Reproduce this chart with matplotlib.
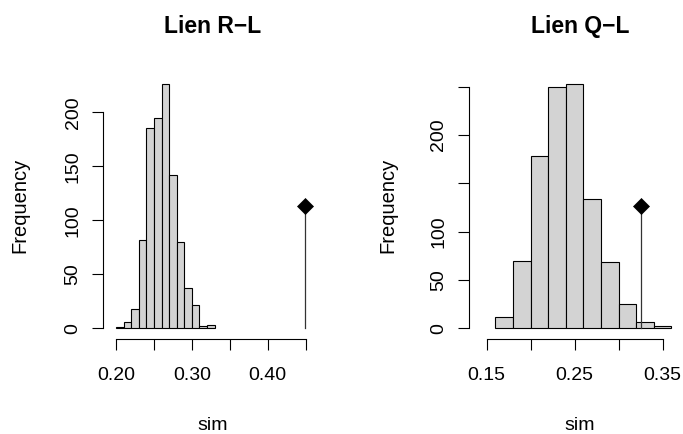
import numpy as np
import matplotlib
matplotlib.use("Agg")
import matplotlib.pyplot as plt

plt.rcParams['font.family'] = ['Liberation Sans', 'DejaVu Sans']

# simulated similarity histograms (counts per bin) + observed values
rl_breaks = [0.20, 0.21, 0.22, 0.23, 0.24, 0.25, 0.26, 0.27, 0.28, 0.29, 0.30, 0.31, 0.32, 0.33]
rl_counts = [1, 6, 18, 82, 185, 195, 226, 142, 80, 37, 22, 2, 3]
rl_obs = 0.449

ql_breaks = [0.16, 0.18, 0.20, 0.22, 0.24, 0.26, 0.28, 0.30, 0.32, 0.34, 0.36]
ql_counts = [12, 70, 178, 250, 253, 134, 69, 25, 6, 2]
ql_obs = 0.325

titles = ["Lien R\u2212L", "Lien Q\u2212L"]
x_ticks = [[0.20, 0.25, 0.30, 0.35, 0.40, 0.45], [0.15, 0.20, 0.25, 0.30, 0.35]]
x_labels = [["0.20", "", "0.30", "", "0.40", ""], ["0.15", "", "0.25", "", "0.35"]]
y_ticks = [[0, 50, 100, 150, 200], [0, 50, 100, 150, 200, 250]]
y_labels = [["0", "50", "100", "150", "200"], ["0", "50", "100", "", "200", ""]]

W, H = 683, 434
fig = plt.figure(figsize=(W / 100, H / 100), dpi=100)

def px_axes(x0, x1, ytop, ybot):
    return fig.add_axes([x0 / W, 1 - ybot / H, (x1 - x0) / W, (ybot - ytop) / H])

# axes boxes in pixels and data limits chosen so the scales match the reference
ax1 = px_axes(103.3, 315, 80, 339)
ax1.set_xlim(0.18326, 0.4623)
ax1.set_ylim(-9.9, 229.9)

ax2 = px_axes(469, 675, 80, 339)
ax2.set_xlim(0.12989, 0.36398)
ax2.set_ylim(-11.08, 257.0)

panels = [(ax1, rl_breaks, rl_counts, rl_obs), (ax2, ql_breaks, ql_counts, ql_obs)]
centers = [213, 580]

for i, (ax, br, cnt, obs) in enumerate(panels):
    br = np.array(br)
    ax.bar(br[:-1], cnt, width=np.diff(br), align='edge',
           color='#d3d3d3', edgecolor='black', linewidth=0.8)
    top = max(cnt) / 2
    ax.plot([obs, obs], [0, top], color='#333333', lw=0.9)
    ax.plot([obs], [top], marker='D', ms=8.2, color='black', mec='black', mew=0.5)

    for s in ['top', 'right']:
        ax.spines[s].set_visible(False)
    ax.spines['left'].set_bounds(y_ticks[i][0], y_ticks[i][-1])
    ax.spines['bottom'].set_bounds(x_ticks[i][0], x_ticks[i][-1])
    for s in ['left', 'bottom']:
        ax.spines[s].set_linewidth(0.8)

    ax.set_xticks(x_ticks[i])
    ax.set_xticklabels(x_labels[i])
    ax.set_yticks(y_ticks[i])
    ax.set_yticklabels(y_labels[i], rotation=90, va='center')
    ax.tick_params(axis='both', direction='out', length=7.6, width=0.8, labelsize=14)
    ax.tick_params(axis='x', pad=12.5)
    ax.tick_params(axis='y', pad=8)

    fig.text(centers[i] / W, 1 - 32.7 / H, titles[i], ha='center', va='baseline',
             fontsize=16.5, fontweight='bold')
    fig.text(centers[i] / W, 1 - 430 / H, "sim", ha='center', va='baseline', fontsize=14)

fig.text(20 / W, 1 - 205 / H, "Frequency", rotation=90, ha='center', va='center', fontsize=14.5)
fig.text(388 / W, 1 - 205 / H, "Frequency", rotation=90, ha='center', va='center', fontsize=14.5)

fig.savefig("out.png", dpi=100)
